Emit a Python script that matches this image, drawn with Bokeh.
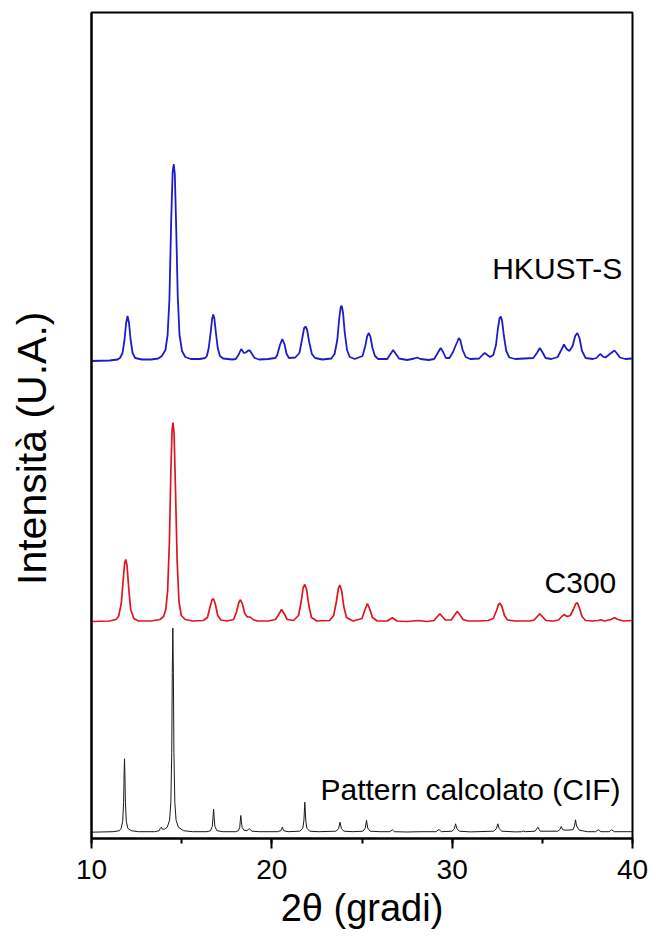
from bokeh.plotting import figure
from bokeh.models import SingleIntervalTicker, FixedTicker, Label
from bokeh.embed import file_html
from bokeh.resources import INLINE

# ---- data (2theta in degrees, intensity in arbitrary units above each baseline) ----
hkust_pts = [
    (10.0, -1), (11.0, -0.5), (11.45, 0.5),
    (11.58, 2), (11.72, 7), (11.83, 20), (11.92, 37), (12.0, 44), (12.08, 37), (12.17, 20), (12.28, 7), (12.42, 2),
    (12.8, 0.5), (13.3, 0.5), (13.7, 1.5),
    (13.9, 4), (14.1, 10), (14.22, 25), (14.32, 60), (14.42, 140), (14.5, 188), (14.56, 196), (14.62, 186),
    (14.7, 130), (14.78, 65), (14.88, 25), (15.02, 9), (15.2, 3), (15.5, 1),
    (16.0, 1), (16.3, 2),
    (16.4, 4), (16.5, 12), (16.61, 28), (16.69, 41), (16.75, 45.5), (16.81, 42), (16.9, 27), (17.0, 12), (17.12, 4), (17.3, 1.5),
    (17.8, 0.5),
    (18.0, 1), (18.15, 5), (18.3, 11), (18.45, 7), (18.55, 7.5), (18.7, 9.5), (18.78, 9.5), (18.9, 6), (19.05, 2), (19.3, 0.5),
    (19.8, 1), (20.2, 2),
    (20.3, 5), (20.45, 15), (20.58, 21), (20.7, 16), (20.82, 6), (20.95, 2),
    (21.3, 2.5),
    (21.53, 7), (21.68, 21), (21.79, 32), (21.87, 33.5), (21.96, 30), (22.07, 18), (22.22, 6), (22.4, 2),
    (22.8, 0.5), (23.3, 1.5),
    (23.48, 6), (23.63, 20), (23.74, 42), (23.82, 53), (23.88, 54), (23.95, 47), (24.04, 28), (24.17, 10), (24.32, 3), (24.6, 1),
    (25.03, 4), (25.18, 14), (25.29, 24), (25.38, 27), (25.47, 23), (25.58, 12), (25.72, 4), (25.9, 1),
    (26.4, 1), (26.58, 6), (26.73, 10), (26.88, 6), (27.05, 1.5),
    (27.5, 0), (27.9, 1.5), (28.06, 2.5), (28.25, 1), (28.7, 0),
    (29.0, 1), (29.2, 7), (29.36, 12), (29.5, 8), (29.65, 2),
    (29.85, 2), (30.05, 8), (30.18, 14), (30.28, 18), (30.37, 22), (30.45, 20), (30.58, 10), (30.75, 3), (31.0, 1),
    (31.5, 1.5), (31.7, 5.5), (31.81, 7), (31.95, 5), (32.1, 3),
    (32.28, 5), (32.43, 15), (32.54, 32), (32.63, 42), (32.7, 43.5), (32.77, 39), (32.87, 24), (33.0, 9), (33.17, 2.5), (33.5, 1),
    (34.0, 1.5),
    (34.5, 2), (34.7, 7), (34.86, 12), (35.0, 8), (35.18, 2), (35.5, 1),
    (35.85, 3), (36.05, 10), (36.2, 15.5), (36.35, 11), (36.5, 9), (36.68, 14), (36.82, 24), (36.94, 27), (37.06, 22),
    (37.2, 9), (37.4, 2), (37.8, 1),
    (38.0, 2), (38.15, 5), (38.23, 6), (38.35, 3.5), (38.5, 2.5), (38.85, 7.5), (39.0, 9.5), (39.12, 7), (39.3, 2.5),
    (39.6, 1), (40.0, 1.5),
]

c300_pts = [
    (10.0, 0), (11.0, 0.5), (11.35, 2),
    (11.5, 5), (11.65, 18), (11.76, 42), (11.84, 59), (11.9, 62), (11.97, 56), (12.06, 34), (12.17, 12), (12.35, 3), (12.6, 0.5),
    (13.3, 0.5), (13.8, 2),
    (14.0, 5), (14.12, 12), (14.22, 30), (14.32, 80), (14.4, 150), (14.47, 192), (14.52, 199), (14.58, 188),
    (14.66, 130), (14.75, 60), (14.85, 20), (14.98, 6), (15.2, 2), (15.6, 0.5),
    (16.2, 1),
    (16.43, 4), (16.58, 15), (16.69, 22), (16.76, 22.7), (16.86, 18), (17.0, 6), (17.17, 1.5), (17.5, 0.5),
    (17.88, 2), (18.03, 9), (18.17, 19), (18.26, 21.7), (18.36, 18), (18.5, 8), (18.64, 4.5), (18.8, 4.5), (18.95, 2), (19.2, 0.5),
    (19.8, 0.5), (20.2, 2),
    (20.35, 6), (20.54, 12), (20.68, 8), (20.85, 2), (21.2, 1),
    (21.48, 6), (21.63, 20), (21.74, 34), (21.83, 37), (21.93, 32), (22.05, 16), (22.2, 4), (22.5, 0.5),
    (23.2, 1),
    (23.43, 6), (23.58, 20), (23.69, 33), (23.77, 36.5), (23.87, 31), (23.99, 15), (24.14, 4), (24.5, 0.5),
    (25.0, 3), (25.15, 11), (25.3, 18), (25.42, 13), (25.58, 4), (25.85, 0.5),
    (26.4, 0.5), (26.68, 3.7), (26.95, 0.5),
    (27.5, 0), (28.1, 1), (28.6, 0),
    (29.0, 1), (29.18, 5), (29.32, 7.7), (29.45, 5), (29.62, 1.5),
    (29.95, 1.5), (30.12, 6), (30.28, 10), (30.42, 7), (30.6, 2), (30.9, 0.5),
    (31.5, 0.5), (32.0, 1),
    (32.28, 3), (32.46, 11), (32.57, 17), (32.65, 18.3), (32.76, 15), (32.9, 6), (33.07, 1.5), (33.5, 0.5),
    (34.3, 0.5),
    (34.55, 1.5), (34.72, 5), (34.86, 7.7), (35.0, 5), (35.2, 1), (35.6, 0.5),
    (35.9, 1.5), (36.05, 4.5), (36.2, 7), (36.38, 5), (36.55, 6), (36.72, 12), (36.86, 18), (36.94, 18.7), (37.05, 14),
    (37.2, 5), (37.4, 1), (37.8, 0.5),
    (38.1, 1), (38.23, 1.7), (38.45, 0.5), (38.8, 2), (39.0, 3.7), (39.2, 2), (39.5, 0.5), (40.0, 1),
]

cif_pts = [
    (10.0, 0), (11.2, 0.5), (11.55, 1.5),
    (11.65, 4), (11.73, 11), (11.78, 30), (11.81, 60), (11.83, 73.4), (11.85, 60), (11.88, 30), (11.93, 11), (12.01, 4),
    (12.2, 1.5), (12.6, 0.5),
    (13.5, 0.5), (13.75, 1.5), (13.82, 4), (13.87, 5), (13.93, 3), (14.05, 3),
    (14.2, 5), (14.33, 12), (14.4, 30), (14.45, 80), (14.48, 160), (14.51, 204), (14.54, 160), (14.57, 80), (14.62, 30),
    (14.69, 12), (14.82, 5), (15.1, 1.5), (15.6, 0.5),
    (16.4, 0.5), (16.6, 1.5), (16.7, 6), (16.74, 15), (16.77, 23), (16.8, 15), (16.84, 6), (16.95, 1.5), (17.3, 0.5),
    (18.0, 0.5), (18.15, 1.5), (18.22, 5), (18.25, 11), (18.28, 16.7), (18.31, 11), (18.35, 5), (18.45, 2),
    (18.62, 1.5), (18.72, 3), (18.76, 3.4), (18.8, 2.5), (18.9, 1), (19.3, 0.5),
    (20.3, 0.5), (20.5, 1.5), (20.58, 5), (20.65, 1.5), (20.9, 0.5),
    (21.55, 1), (21.72, 4), (21.78, 12), (21.83, 30), (21.88, 12), (21.94, 4), (22.1, 1), (22.6, 0.5),
    (23.55, 1), (23.7, 3.5), (23.78, 10), (23.86, 3.5), (24.0, 1), (24.5, 0.5),
    (25.05, 1), (25.18, 4), (25.25, 12), (25.32, 4), (25.45, 1), (26.0, 0.5),
    (26.55, 0.5), (26.68, 2.4), (26.8, 0.5),
    (27.5, 0.2), (28.2, 0.5), (29.1, 0.5), (29.27, 2.7), (29.4, 0.5),
    (30.0, 1), (30.12, 3.5), (30.19, 8.4), (30.26, 3.5), (30.4, 1), (31.0, 0.3),
    (32.3, 1), (32.45, 3.5), (32.53, 8.4), (32.61, 3.5), (32.75, 1), (33.5, 0.3),
    (33.85, 0.5), (33.94, 1.2), (34.05, 0.5),
    (34.6, 1), (34.75, 5), (34.88, 1),
    (35.85, 1), (35.97, 2.5), (36.05, 5.7), (36.13, 2.5), (36.3, 2), (36.7, 2.5), (36.78, 6), (36.84, 12.4), (36.9, 6),
    (37.05, 2), (37.5, 0.5),
    (37.95, 0.5), (38.1, 2.4), (38.25, 0.5), (38.7, 0.5), (38.84, 2.4), (39.0, 0.5), (40.0, 0.5),
]

hkust_x = [p[0] for p in hkust_pts]
hkust_y = [p[1] for p in hkust_pts]
c300_x = [p[0] for p in c300_pts]
c300_y = [p[1] for p in c300_pts]
cif_x = [p[0] for p in cif_pts]
cif_y = [p[1] for p in cif_pts]

series_names = ["HKUST-S", "C300", "Pattern calcolato (CIF)"]
x_ticks = [10, 20, 30, 40]

# vertical stacking offsets
OFF_HKUST = 478.5
OFF_C300 = 217.0
OFF_CIF = 6.3

FONT = "Liberation Sans"

p = figure(width=651, height=937, x_range=(10, 40), y_range=(0, 826),
           output_backend="svg", toolbar_location=None,
           min_border_left=91, min_border_right=19, min_border_top=12, min_border_bottom=99)

p.line(cif_x, [v + OFF_CIF for v in cif_y], line_color="#1a1a1a", line_width=1.0)
p.line(c300_x, [v + OFF_C300 for v in c300_y], line_color="#e0141e", line_width=1.7)
p.line(hkust_x, [v + OFF_HKUST for v in hkust_y], line_color="#1c1cc8", line_width=1.8)

p.grid.visible = False
p.outline_line_color = "black"
p.outline_line_width = 2
p.outline_line_alpha = 1.0
p.background_fill_color = "white"
p.border_fill_color = "white"

# x axis
xa = p.xaxis[0]
xa.ticker = SingleIntervalTicker(interval=10, num_minor_ticks=2)
xa.axis_label = "2θ (gradi)"
xa.axis_label_text_font = FONT
xa.axis_label_text_font_size = "38px"
xa.axis_label_text_font_style = "normal"
xa.axis_label_text_color = "black"
xa.axis_label_standoff = 5
xa.major_label_text_font = FONT
xa.major_label_text_font_size = "28px"
xa.major_label_text_color = "black"
xa.major_label_standoff = 11
xa.major_tick_out = 10
xa.major_tick_in = 0
xa.minor_tick_out = 5
xa.minor_tick_in = 0
xa.axis_line_width = 2
xa.major_tick_line_width = 2
xa.minor_tick_line_width = 2
xa.axis_line_color = "black"
xa.major_tick_line_color = "black"
xa.minor_tick_line_color = "black"

# y axis (no ticks, only its title)
ya = p.yaxis[0]
ya.ticker = FixedTicker(ticks=[])
ya.axis_label = "Intensità (U.A.)\u00a0\u00a0\u00a0\u00a0"
ya.axis_label_text_font = FONT
ya.axis_label_text_font_size = "41px"
ya.axis_label_text_font_style = "normal"
ya.axis_label_text_color = "black"
ya.axis_label_standoff = 37
ya.major_tick_out = 0
ya.major_tick_in = 0
ya.minor_tick_out = 0
ya.minor_tick_in = 0
ya.axis_line_width = 2
ya.axis_line_color = "black"

# series labels
label_pos = [(39.43, 569.7), (39.1, 256.0), (39.34, 49.0)]
for name, (lx, ly) in zip(series_names, label_pos):
    p.add_layout(Label(x=lx, y=ly, text=name, text_align="right", text_baseline="alphabetic",
                       text_font=FONT, text_font_size="30px", text_color="black"))

open("out.html", "w").write(file_html(p, INLINE))
